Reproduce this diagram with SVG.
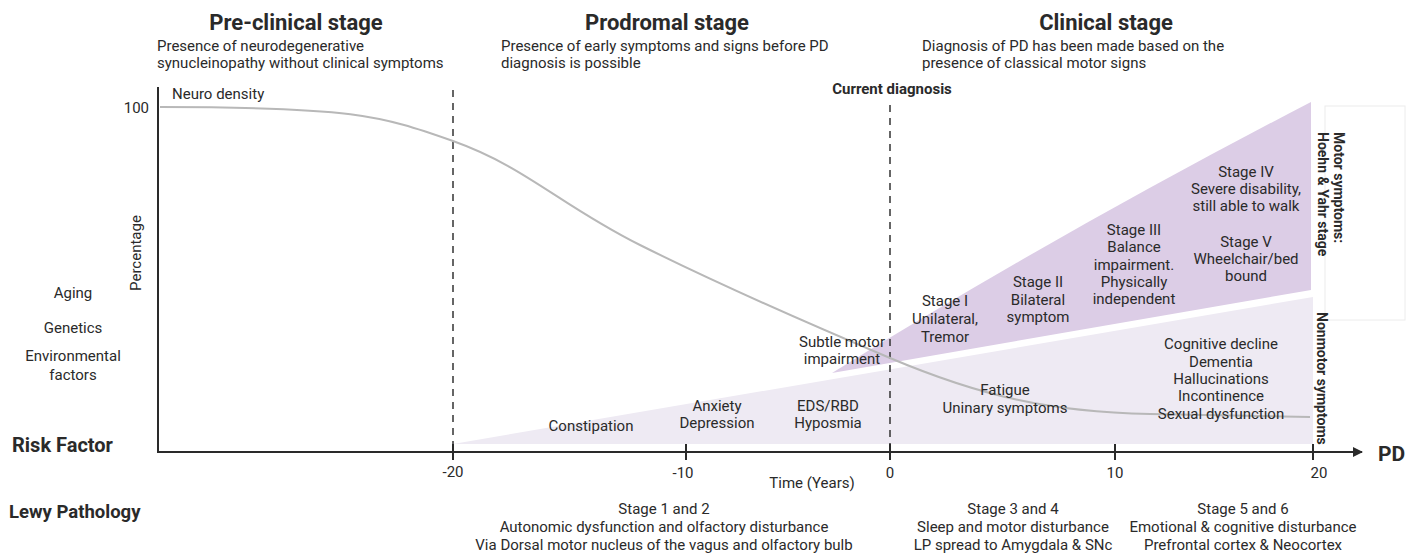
<svg xmlns="http://www.w3.org/2000/svg" width="1421" height="554" viewBox="0 0 1421 554">
<style>
text{font-family:Roboto,"Liberation Sans",sans-serif;fill:#2a2a2a}
.t{font-size:15px}
.c{text-anchor:middle}
.h{font-size:22px;font-weight:700;text-anchor:middle}
.b{font-weight:700}
.ax{stroke:#2a2a2a;stroke-width:2;fill:none}
.dash{stroke:#333;stroke-width:1.5;stroke-dasharray:7 6;fill:none}
</style>
<defs>
<marker id="arr" viewBox="0 0 10 10" refX="9" refY="5" markerWidth="5" markerHeight="5" orient="auto" markerUnits="strokeWidth">
<path d="M0,0 L10,5 L0,10 z" fill="#2a2a2a"/>
</marker>
</defs>
<rect width="1421" height="554" fill="#ffffff"/>

<g id="stage-headers">
<text class="h" x="296" y="30">Pre-clinical stage</text>
<text class="t" x="157" y="51">Presence of neurodegenerative</text>
<text class="t" x="157" y="68">synucleinopathy without clinical symptoms</text>
<text class="h" x="667" y="30">Prodromal stage</text>
<text class="t" x="501" y="51">Presence of early symptoms and signs before PD</text>
<text class="t" x="501" y="68">diagnosis is possible</text>
<text class="h" x="1106" y="30">Clinical stage</text>
<text class="t" x="922" y="51">Diagnosis of PD has been made based on the</text>
<text class="t" x="922" y="68">presence of classical motor signs</text>
</g>

<g id="side-box">
<rect x="1325" y="106" width="80" height="214" fill="#ffffff" stroke="#ececec" stroke-width="1"/>
</g>

<g id="nonmotor-region">
<polygon points="453,444 1313,297 1313,444" fill="#eeeaf3"/>
</g>
<g id="motor-region">
<path d="M832,373 Q1060,232 1311,102 L1311,290 Z" fill="#dccde6"/>
</g>

<g id="connectors">
<path class="dash" d="M453,90 V450"/>
<path class="dash" d="M890,105 V450"/>
<path d="M160,107 C350,107 380,115 453,141 S560,205 640,245 S800,320 890,358 S1050,412 1150,414 L1310,417" stroke="#b8b8b8" stroke-width="2" fill="none"/>
<path class="ax" d="M158,87 V452"/>
<path class="ax" d="M157,452 H1362" marker-end="url(#arr)"/>
<path class="ax" d="M453,444 V460 M686,444 V460 M890,444 V460 M1115,444 V460 M1313,444 V460"/>
</g>

<g id="axis-labels">
<text class="t" x="172" y="99">Neuro density</text>
<text class="t" x="149" y="113" text-anchor="end">100</text>
<text class="t c" transform="translate(141,253) rotate(-90)">Percentage</text>
<text class="t c" x="453" y="477">-20</text>
<text class="t c" x="683" y="478">-10</text>
<text class="t c" x="890" y="478">0</text>
<text class="t c" x="1115" y="478">10</text>
<text class="t c" x="1319" y="478">20</text>
<text class="t c" x="812" y="488">Time (Years)</text>
<text class="b" x="1378" y="461" font-size="21">PD</text>
<text class="b c" x="892" y="94" font-size="15">Current diagnosis</text>
</g>

<g id="risk-factors">
<text class="t c" x="73" y="298">Aging</text>
<text class="t c" x="73" y="333">Genetics</text>
<text class="t c" x="73" y="361">Environmental</text>
<text class="t c" x="73" y="380">factors</text>
<text class="b" x="12" y="452" font-size="20">Risk Factor</text>
</g>

<g id="prodromal-symptoms">
<text class="t c" x="591" y="431">Constipation</text>
<text class="t c" x="717" y="411">Anxiety</text>
<text class="t c" x="717" y="428">Depression</text>
<text class="t c" x="828" y="411">EDS/RBD</text>
<text class="t c" x="828" y="428">Hyposmia</text>
<text class="t c" x="842" y="347">Subtle motor</text>
<text class="t c" x="842" y="364">impairment</text>
</g>

<g id="motor-stages">
<text class="t c" x="945" y="306">Stage I</text>
<text class="t c" x="945" y="324">Unilateral,</text>
<text class="t c" x="945" y="342">Tremor</text>
<text class="t c" x="1038" y="287">Stage II</text>
<text class="t c" x="1038" y="305">Bilateral</text>
<text class="t c" x="1038" y="322">symptom</text>
<text class="t c" x="1134" y="235">Stage III</text>
<text class="t c" x="1134" y="252">Balance</text>
<text class="t c" x="1134" y="270">impairment.</text>
<text class="t c" x="1134" y="287">Physically</text>
<text class="t c" x="1134" y="304">independent</text>
<text class="t c" x="1246" y="177">Stage IV</text>
<text class="t c" x="1246" y="194">Severe disability,</text>
<text class="t c" x="1246" y="211">still able to walk</text>
<text class="t c" x="1246" y="247">Stage V</text>
<text class="t c" x="1246" y="264">Wheelchair/bed</text>
<text class="t c" x="1246" y="281">bound</text>
</g>

<g id="nonmotor-symptoms">
<text class="t c" x="1005" y="395">Fatigue</text>
<text class="t c" x="1005" y="413">Uninary symptoms</text>
<text class="t c" x="1221" y="349">Cognitive decline</text>
<text class="t c" x="1221" y="367">Dementia</text>
<text class="t c" x="1221" y="384">Hallucinations</text>
<text class="t c" x="1221" y="401">Incontinence</text>
<text class="t c" x="1221" y="419">Sexual dysfunction</text>
</g>

<g id="side-labels">
<text class="b" font-size="14" transform="translate(1334,132) rotate(90)">Motor symptoms:</text>
<text class="b" font-size="14" transform="translate(1318,132) rotate(90)">Hoehn &amp; Yahr stage</text>
<text class="b" font-size="14" transform="translate(1317,312) rotate(90)">Nonmotor symptoms</text>
</g>

<g id="lewy-pathology">
<text class="b" x="9" y="518" font-size="18.5">Lewy Pathology</text>
<text class="t c" x="664" y="514">Stage 1 and 2</text>
<text class="t c" x="664" y="532">Autonomic dysfunction and olfactory disturbance</text>
<text class="t c" x="664" y="550">Via Dorsal motor nucleus of the vagus and olfactory bulb</text>
<text class="t c" x="1013" y="514">Stage 3 and 4</text>
<text class="t c" x="1013" y="532">Sleep and motor disturbance</text>
<text class="t c" x="1013" y="550">LP spread to Amygdala &amp; SNc</text>
<text class="t c" x="1243" y="514">Stage 5 and 6</text>
<text class="t c" x="1243" y="532">Emotional &amp; cognitive disturbance</text>
<text class="t c" x="1243" y="550">Prefrontal cortex &amp; Neocortex</text>
</g>
</svg>
